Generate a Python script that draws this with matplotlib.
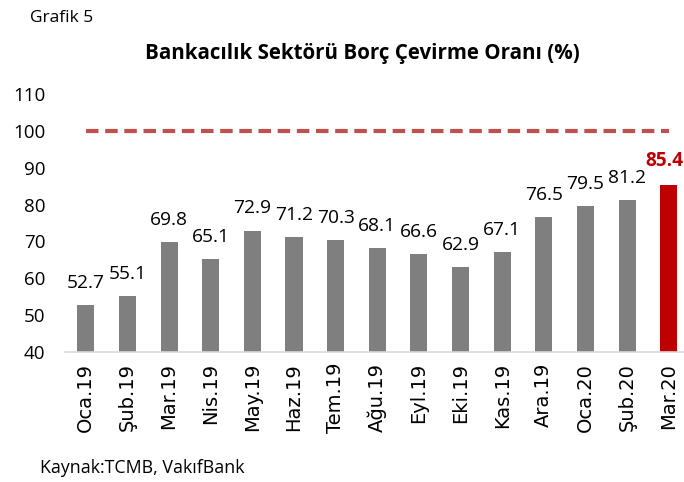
import matplotlib.pyplot as plt

# data
months = ['Oca.19', 'Şub.19', 'Mar.19', 'Nis.19', 'May.19', 'Haz.19', 'Tem.19',
          'Ağu.19', 'Eyl.19', 'Eki.19', 'Kas.19', 'Ara.19', 'Oca.20', 'Şub.20', 'Mar.20']
ratio = [52.7, 55.1, 69.8, 65.1, 72.9, 71.2, 70.3, 68.1, 66.6, 62.9, 67.1, 76.5, 79.5, 81.2, 85.4]
threshold = 100

plt.rcParams['font.family'] = ['Open Sans', 'DejaVu Sans']

fig = plt.figure(figsize=(6.84, 4.82), dpi=100)
ax = fig.add_axes([0.095, 0.27, 0.91, 0.535])

x = list(range(len(months)))
colors = ['#7f7f7f'] * (len(months) - 1) + ['#c00000']
ax.bar(x, ratio, width=0.41, color=colors, zorder=2)

# threshold line
ax.plot([x[0], x[-1]], [threshold, threshold], color='#c0504d', lw=3,
        dashes=(3, 1.6), zorder=3)

# value labels
for i, v in enumerate(ratio):
    last = i == len(ratio) - 1
    ax.text(i - (0.1 if last else 0), v + 3.6, f'{v:.1f}', ha='center', va='bottom',
            fontsize=13.8,
            fontweight='bold' if last else 'normal',
            color='#c00000' if last else 'black')

ax.set_ylim(40, 110)
ax.set_xlim(-0.5, 14.45)
ax.set_yticks(range(40, 111, 10))
ax.set_xticks(x)
ax.set_xticklabels(months, rotation=90, fontsize=14, family=['DejaVu Sans'])
ax.tick_params(axis='y', labelsize=13.5, length=0, pad=14)
ax.tick_params(axis='x', length=0, pad=8)
for s in ['top', 'right', 'left']:
    ax.spines[s].set_visible(False)
ax.spines['bottom'].set_color('#d9d9d9')
ax.spines['bottom'].set_linewidth(1.2)

fig.text(0.044, 0.963, 'Grafik 5', fontsize=12.5, va='center')
fig.text(0.53, 0.89, 'Bankacılık Sektörü Borç Çevirme Oranı (%)', fontsize=14.8,
         fontweight='bold', ha='center', va='center')
fig.text(0.058, 0.03, 'Kaynak:TCMB, VakıfBank', fontsize=12.8, va='center')

fig.savefig('out.png', dpi=100)
